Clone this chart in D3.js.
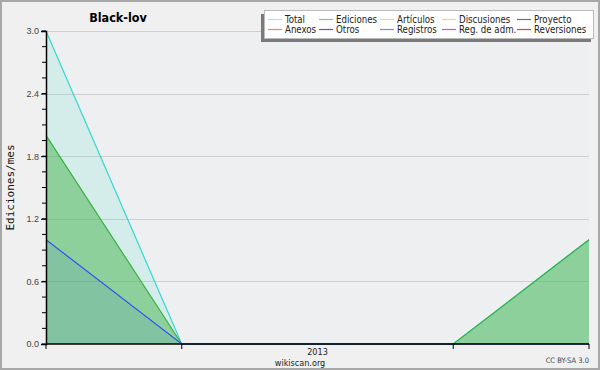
<!DOCTYPE html>
<html>
<head>
<meta charset="utf-8">
<script src="https://cdn.jsdelivr.net/npm/d3@7"></script>
<style>
  body { margin: 0; background: #f0f0f0; }
  svg { display: block; font-family: "DejaVu Sans Condensed", "DejaVu Sans", sans-serif; }
</style>
</head>
<body>
<div id="chart"></div>
<script>
// monthly points, year label sits in the middle
const months = ["2012-11", "2012-12", "2013-01", "2013-02", "2013-03"];
const yearLabels = [{ label: "2013", at: 2 }];
const tickMonths = [0, 1, 3, 4];

const total = [3, 0, 0, 0, 1];
const ediciones = [2, 0, 0, 0, 1];
const registros = [1, 0, 0, 0, 0];

const yTicks = [0, 0.6, 1.2, 1.8, 2.4, 3.0];

const legendNames = ["Total", "Ediciones", "Artículos", "Discusiones", "Proyecto",
  "Anexos", "Otros", "Registros", "Reg. de adm.", "Reversiones"];
const legendColors = ["#a8e4e4", "#80c890", "#c8ec70", "#ffd070", "#707070",
  "#ff8040", "#8040d0", "#8080ff", "#d050e0", "#e83c3c"];

var W = 600, H = 370;
var margin = { top: 31, right: 11, bottom: 26, left: 46 };

var svg = d3.select("#chart").append("svg").attr("width", W).attr("height", H);

svg.append("rect").attr("x", 1).attr("y", 1).attr("width", W - 2).attr("height", H - 2)
  .attr("fill", "#f0f0f0").attr("stroke", "#a8a8a8").attr("stroke-width", 2);

var x = d3.scaleLinear().domain([0, months.length - 1]).range([margin.left, W - margin.right]);
var y = d3.scaleLinear().domain([0, 3]).range([H - margin.bottom, margin.top]);

// plot background
svg.append("rect").attr("x", x(0)).attr("y", y(3)).attr("width", x(4) - x(0)).attr("height", y(0) - y(3))
  .attr("fill", "#eeeff1");

// grid
svg.append("g").selectAll("line").data(yTicks.slice(1)).join("line")
  .attr("x1", x(0)).attr("x2", x(4))
  .attr("y1", d => Math.round(y(d)) + 0.5).attr("y2", d => Math.round(y(d)) + 0.5)
  .attr("stroke", "#cfcfcf").attr("stroke-width", 1);

var area = d3.area().x((d, i) => x(i)).y0(y(0)).y1(d => y(d));
var line = d3.line().x((d, i) => x(i)).y(d => y(d));

var series = [
  { data: total, line: "#30d8d0", fill: "#30e0c0", op: 0.13 },
  { data: ediciones, line: "#38b040", fill: "#40b048", op: 0.48 },
  { data: registros, line: "#3050f0", fill: "#3070d0", op: 0.12 }
];

series.forEach(s => {
  svg.append("path").datum(s.data).attr("d", area).attr("fill", s.fill).attr("fill-opacity", s.op);
});
series.forEach(s => {
  svg.append("path").datum(s.data).attr("d", line).attr("fill", "none")
    .attr("stroke", s.line).attr("stroke-width", 1.2);
});

// y axis
var yAxis = d3.axisLeft(y).tickValues(yTicks).tickFormat(d3.format(".1f")).tickSize(5).tickPadding(2);
var gy = svg.append("g").attr("transform", `translate(${x(0)},0)`).call(yAxis);
var minor = d3.range(0, 3.001, 0.15);
gy.selectAll(".minor").data(minor).join("line").attr("class", "minor")
  .attr("x1", -4).attr("x2", 0).attr("y1", d => y(d)).attr("y2", d => y(d)).attr("stroke", "#000");

// x axis
var gx = svg.append("g").attr("transform", `translate(0,${y(0)})`);
gx.append("line").attr("x1", x(0)).attr("x2", x(4)).attr("stroke", "#000").attr("stroke-width", 1.5);
gx.selectAll(".t").data(tickMonths).join("line").attr("class", "t")
  .attr("x1", d => x(d)).attr("x2", d => x(d)).attr("y1", 0).attr("y2", 5).attr("stroke", "#000");
gx.selectAll(".yl").data(yearLabels).join("text").attr("class", "yl")
  .attr("x", d => x(d.at)).attr("y", 10.5).attr("text-anchor", "middle")
  .attr("font-size", 9).attr("fill", "#222").text(d => d.label);

gy.select(".domain").attr("stroke-width", 1.5);
gy.selectAll(".tick text").attr("font-size", 9).attr("fill", "#444");

// texts
svg.append("text").attr("x", 118).attr("y", 22).attr("text-anchor", "middle")
  .attr("font-weight", "bold").attr("font-size", 12.5).text("Black-lov");
svg.append("text").attr("transform", `translate(14,${(y(0) + y(3)) / 2}) rotate(-90)`)
  .attr("text-anchor", "middle").attr("font-size", 11).attr("font-family", "DejaVu Sans Mono")
  .attr("fill", "#111").text("Ediciones/mes");
svg.append("text").attr("x", 300).attr("y", 365.5).attr("text-anchor", "middle")
  .attr("font-size", 9).attr("fill", "#222").text("wikiscan.org");
svg.append("text").attr("x", 589).attr("y", 363).attr("text-anchor", "end")
  .attr("font-size", 7.5).attr("fill", "#444").text("CC BY-SA 3.0");

// legend
var lg = svg.append("g");
lg.append("rect").attr("x", 261).attr("y", 14).attr("width", 330).attr("height", 28).attr("fill", "#7a7a7a");
lg.append("rect").attr("x", 264.5).attr("y", 10.5).attr("width", 329).attr("height", 28)
  .attr("fill", "#fff").attr("stroke", "#bbb");
var colX = [268, 319, 380, 442, 517];
legendNames.forEach((name, i) => {
  var cx = colX[i % 5], cy = i < 5 ? 19.5 : 29.5;
  lg.append("line").attr("x1", cx).attr("x2", cx + 14).attr("y1", cy).attr("y2", cy)
    .attr("stroke", legendColors[i]).attr("stroke-width", 1.2);
  lg.append("text").attr("x", cx + 17).attr("y", cy + 3.5).attr("font-size", 9.6)
    .attr("fill", "#222").text(name);
});
</script>
</body>
</html>
